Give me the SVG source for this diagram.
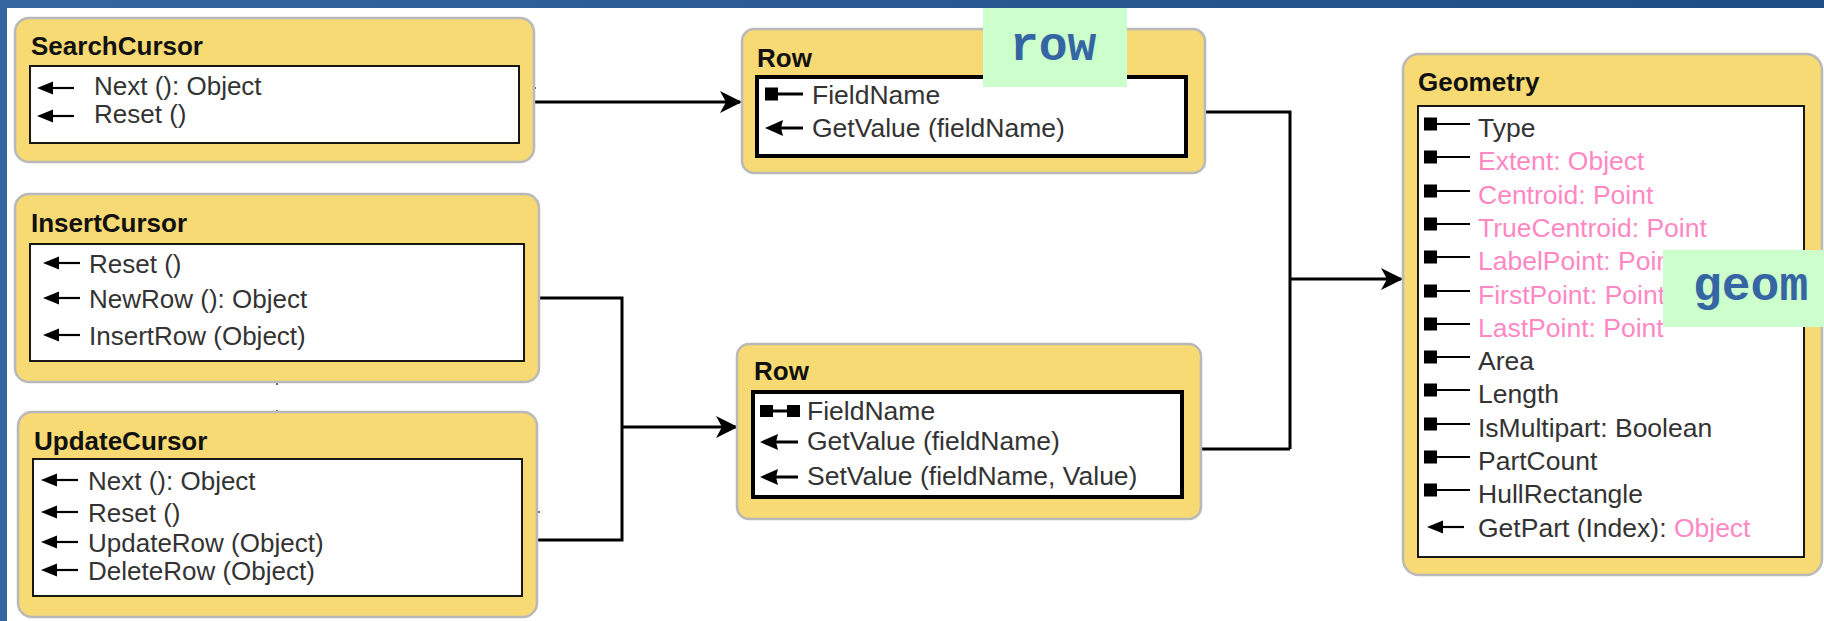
<svg xmlns="http://www.w3.org/2000/svg" width="1824" height="621" viewBox="0 0 1824 621">
<defs>
<linearGradient id="band" x1="0" y1="0" x2="1" y2="0">
<stop offset="0" stop-color="#35669f"/>
<stop offset="1" stop-color="#1e4c85"/>
</linearGradient>
<marker id="ah" viewBox="0 0 22 22" refX="20" refY="11" markerWidth="22" markerHeight="22" markerUnits="userSpaceOnUse" orient="auto">
<path d="M0,0 L22,11 L0,22 L6,11 Z" fill="#000"/>
</marker>
<g id="arrS">
<path d="M0,0 L16,-6.5 L16,6.5 Z" fill="#000"/>
<line x1="12" y1="0" x2="37" y2="0" stroke="#000" stroke-width="2.2"/>
</g>
<g id="arrL">
<path d="M0,0 L18,-8 L16,0 L18,8 Z" fill="#000"/>
<line x1="12" y1="0" x2="38" y2="0" stroke="#000" stroke-width="3"/>
</g>
<g id="prop">
<rect x="0" y="-6.5" width="13" height="13" fill="#000"/>
<line x1="12" y1="0" x2="46" y2="0" stroke="#000" stroke-width="1.8"/>
</g>
<g id="propL">
<rect x="0" y="-6.5" width="13" height="13" fill="#000"/>
<line x1="12" y1="0" x2="38" y2="0" stroke="#000" stroke-width="3"/>
</g>
<g id="dumb">
<rect x="0" y="-6" width="13" height="12" fill="#000"/>
<rect x="27" y="-6" width="13" height="12" fill="#000"/>
<line x1="12" y1="0" x2="28" y2="0" stroke="#000" stroke-width="3"/>
</g>
</defs>
<style>
.box{fill:#f7da73;stroke:#b9b9b9;stroke-width:2.5}
.inner{fill:#fff;stroke:#000;stroke-width:1.8}
.innerT{fill:#fff;stroke:#000;stroke-width:4}
.title{font-family:"Liberation Sans",Arial,sans-serif;font-weight:bold;font-size:26px;fill:#111}
.item{font-family:"Liberation Sans",Arial,sans-serif;font-size:26px;fill:#333}
.itemR{font-family:"Liberation Sans",Arial,sans-serif;font-size:26.5px;fill:#333}
.pink{fill:#ff88c4}
.lbl{fill:#ccffcc}
.lbltxt{font-family:"Liberation Mono","Courier New",monospace;font-weight:bold;font-size:48px;fill:#3565a2}
.conn{fill:none;stroke:#000;stroke-width:3}
.tick{stroke:#333;stroke-width:1.5}
</style>
<rect x="0" y="0" width="1824" height="621" fill="#fff"/>
<rect x="0" y="0" width="1824" height="8" fill="url(#band)"/>
<rect x="0" y="0" width="7" height="621" fill="#3566a2"/>

<g id="connectors">
<path class="conn" d="M534,102 H740" marker-end="url(#ah)"/>
<path class="conn" d="M539,298 H622 V540 H537"/>
<path class="conn" d="M622,427 H736" marker-end="url(#ah)"/>
<path class="conn" d="M1205,112 H1290 V449"/>
<path class="conn" d="M1201,449 H1290" stroke-width="4"/>
<path class="conn" d="M1290,279 H1401" marker-end="url(#ah)"/>
<line class="tick" x1="532" y1="88" x2="536" y2="88"/>
<line class="tick" x1="536" y1="512" x2="540" y2="512"/>
<line class="tick" x1="277" y1="381" x2="277" y2="385"/>
<line class="tick" x1="277" y1="410" x2="277" y2="414"/>
</g>

<g id="searchcursor">
<rect class="box" x="15" y="18" width="519" height="144" rx="14"/>
<rect class="inner" x="30" y="66" width="489" height="77"/>
<text class="title" x="31" y="55">SearchCursor</text>
<use href="#arrS" x="37" y="88"/>
<use href="#arrS" x="37" y="116"/>
<text class="item" x="94" y="95">Next (): Object</text>
<text class="item" x="94" y="123">Reset ()</text>
</g>

<g id="insertcursor">
<rect class="box" x="15" y="194" width="524" height="188" rx="14"/>
<rect class="inner" x="30" y="244" width="494" height="117"/>
<text class="title" x="31" y="232">InsertCursor</text>
<use href="#arrS" x="43" y="263"/>
<use href="#arrS" x="43" y="298"/>
<use href="#arrS" x="43" y="335"/>
<text class="item" x="89" y="273">Reset ()</text>
<text class="item" x="89" y="308">NewRow (): Object</text>
<text class="item" x="89" y="345">InsertRow (Object)</text>
</g>

<g id="updatecursor">
<rect class="box" x="18" y="412" width="519" height="205" rx="14"/>
<rect class="inner" x="33" y="459" width="489" height="137"/>
<text class="title" x="34" y="450">UpdateCursor</text>
<use href="#arrS" x="41" y="480"/>
<use href="#arrS" x="41" y="512"/>
<use href="#arrS" x="41" y="542"/>
<use href="#arrS" x="41" y="570"/>
<text class="item" x="88" y="490">Next (): Object</text>
<text class="item" x="88" y="522">Reset ()</text>
<text class="item" x="88" y="552">UpdateRow (Object)</text>
<text class="item" x="88" y="580">DeleteRow (Object)</text>
</g>

<g id="row1">
<rect class="box" x="742" y="29" width="463" height="144" rx="12"/>
<rect class="innerT" x="757" y="77" width="429" height="79"/>
<text class="title" x="757" y="67">Row</text>
<use href="#propL" x="765" y="94"/>
<use href="#arrL" x="765" y="128"/>
<text class="itemR" x="812" y="104">FieldName</text>
<text class="itemR" x="812" y="137">GetValue (fieldName)</text>
</g>

<g id="row2">
<rect class="box" x="737" y="344" width="464" height="175" rx="12"/>
<rect class="innerT" x="753" y="392" width="429" height="105"/>
<text class="title" x="754" y="380">Row</text>
<use href="#dumb" x="760" y="411"/>
<use href="#arrL" x="760" y="442"/>
<use href="#arrL" x="760" y="477"/>
<text class="itemR" x="807" y="420">FieldName</text>
<text class="itemR" x="807" y="450">GetValue (fieldName)</text>
<text class="itemR" x="807" y="485">SetValue (fieldName, Value)</text>
</g>

<g id="geometry">
<rect class="box" x="1403" y="54" width="419" height="521" rx="16"/>
<rect class="inner" x="1418" y="106" width="386" height="451"/>
<text class="title" x="1418" y="91">Geometry</text>
<use href="#prop" x="1424" y="124"/>
<use href="#prop" x="1424" y="157"/>
<use href="#prop" x="1424" y="191"/>
<use href="#prop" x="1424" y="224"/>
<use href="#prop" x="1424" y="257"/>
<use href="#prop" x="1424" y="291"/>
<use href="#prop" x="1424" y="324"/>
<use href="#prop" x="1424" y="357"/>
<use href="#prop" x="1424" y="390"/>
<use href="#prop" x="1424" y="424"/>
<use href="#prop" x="1424" y="457"/>
<use href="#prop" x="1424" y="490"/>
<use href="#arrS" x="1427" y="527"/>
<text class="itemR" x="1478" y="137">Type</text>
<text class="itemR pink" x="1478" y="170">Extent: Object</text>
<text class="itemR pink" x="1478" y="204">Centroid: Point</text>
<text class="itemR pink" x="1478" y="237">TrueCentroid: Point</text>
<text class="itemR pink" x="1478" y="270">LabelPoint: Point</text>
<text class="itemR pink" x="1478" y="304">FirstPoint: Point</text>
<text class="itemR pink" x="1478" y="337">LastPoint: Point</text>
<text class="itemR" x="1478" y="370">Area</text>
<text class="itemR" x="1478" y="403">Length</text>
<text class="itemR" x="1478" y="437">IsMultipart: Boolean</text>
<text class="itemR" x="1478" y="470">PartCount</text>
<text class="itemR" x="1478" y="503">HullRectangle</text>
<text class="itemR" x="1478" y="537">GetPart (Index): <tspan class="pink">Object</tspan></text>
</g>

<g id="label-row">
<rect class="lbl" x="983" y="8" width="144" height="79"/>
<text class="lbltxt" x="1010" y="60">row</text>
</g>

<g id="label-geom">
<rect class="lbl" x="1663" y="250" width="161" height="77"/>
<text class="lbltxt" x="1693" y="300">geom</text>
</g>
</svg>
